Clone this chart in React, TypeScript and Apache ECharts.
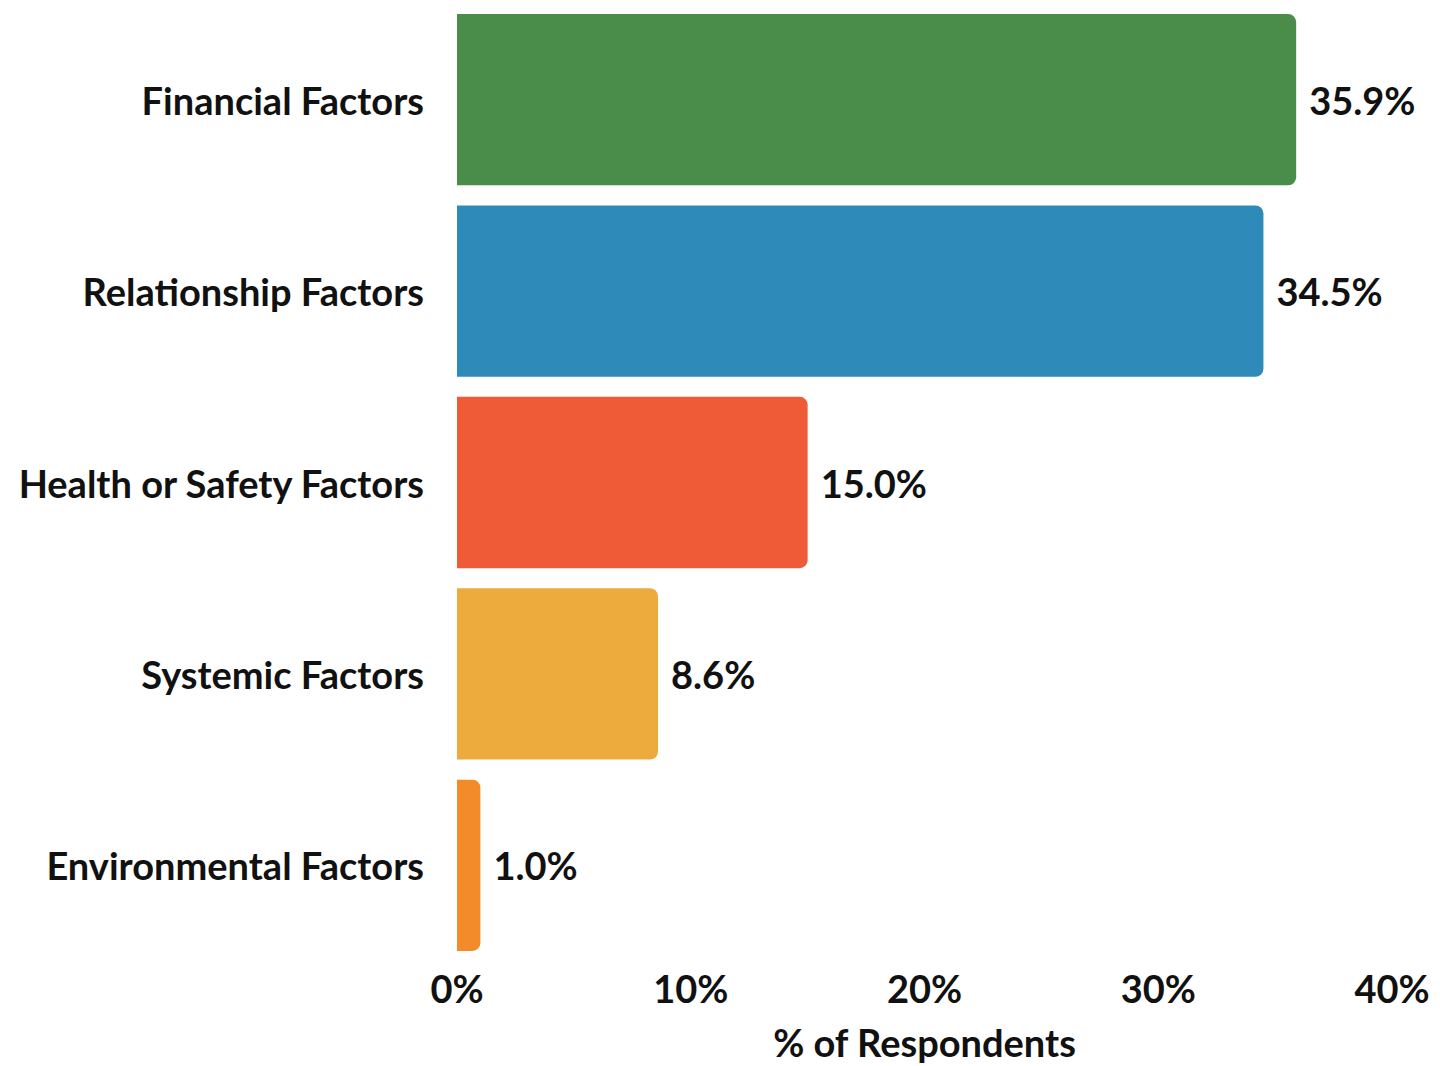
import React, { useEffect, useRef } from "react";
import * as echarts from "echarts";

const categories = [
  "Financial Factors",
  "Relationship Factors",
  "Health or Safety Factors",
  "Systemic Factors",
  "Environmental Factors",
];
const values = [35.9, 34.5, 15.0, 8.6, 1.0];
const colors = ["#4a8c4a", "#2e8bb9", "#ef5b37", "#edab3e", "#f38b2a"];
const xTicks = [0, 10, 20, 30, 40];
const axisTitle = "% of Respondents";

const FONT = "Lato, 'Noto Sans', sans-serif";

export default function App() {
  const ref = useRef<HTMLDivElement>(null);
  useEffect(() => {
    document.body.style.margin = "0";
    const chart = echarts.init(ref.current!, null, { renderer: "svg" });
    chart.setOption({
      animation: false,
      backgroundColor: "#ffffff",
      grid: { left: 457, right: 48, top: 4, bottom: 103, containLabel: false },
      xAxis: {
        type: "value",
        min: xTicks[0],
        max: xTicks[xTicks.length - 1],
        interval: 10,
        axisLine: { show: false },
        axisTick: { show: false },
        splitLine: { show: false },
        axisLabel: {
          formatter: (v: number) => v + "%",
          color: "#111",
          fontFamily: FONT,
          fontWeight: "bold",
          fontSize: 38,
          margin: 8,
        },
        name: axisTitle,
        nameLocation: "middle",
        nameGap: 62,
        nameTextStyle: {
          color: "#111",
          fontFamily: FONT,
          fontWeight: "bold",
          fontSize: 38,
        },
      },
      yAxis: {
        type: "category",
        data: categories,
        inverse: true,
        axisLine: { show: false },
        axisTick: { show: false },
        axisLabel: {
          color: "#111",
          fontFamily: FONT,
          fontWeight: "bold",
          fontSize: 38,
          margin: 33,
          padding: [0, 0, 6, 0],
        },
      },
      series: [
        {
          type: "bar",
          barCategoryGap: "10.5%",
          data: values.map((v, i) => ({
            value: v,
            itemStyle: { color: colors[i], borderRadius: [0, 8, 8, 0] },
          })),
          label: {
            show: true,
            position: "right",
            distance: 13,
            padding: [0, 0, 3, 0],
            formatter: (p: any) => p.value.toFixed(1) + "%",
            color: "#111",
            fontFamily: FONT,
            fontWeight: "bold",
            fontSize: 38,
          },
        },
      ],
    });
    return () => chart.dispose();
  }, []);
  return <div ref={ref} style={{ width: 1440, height: 1066 }} />;
}
